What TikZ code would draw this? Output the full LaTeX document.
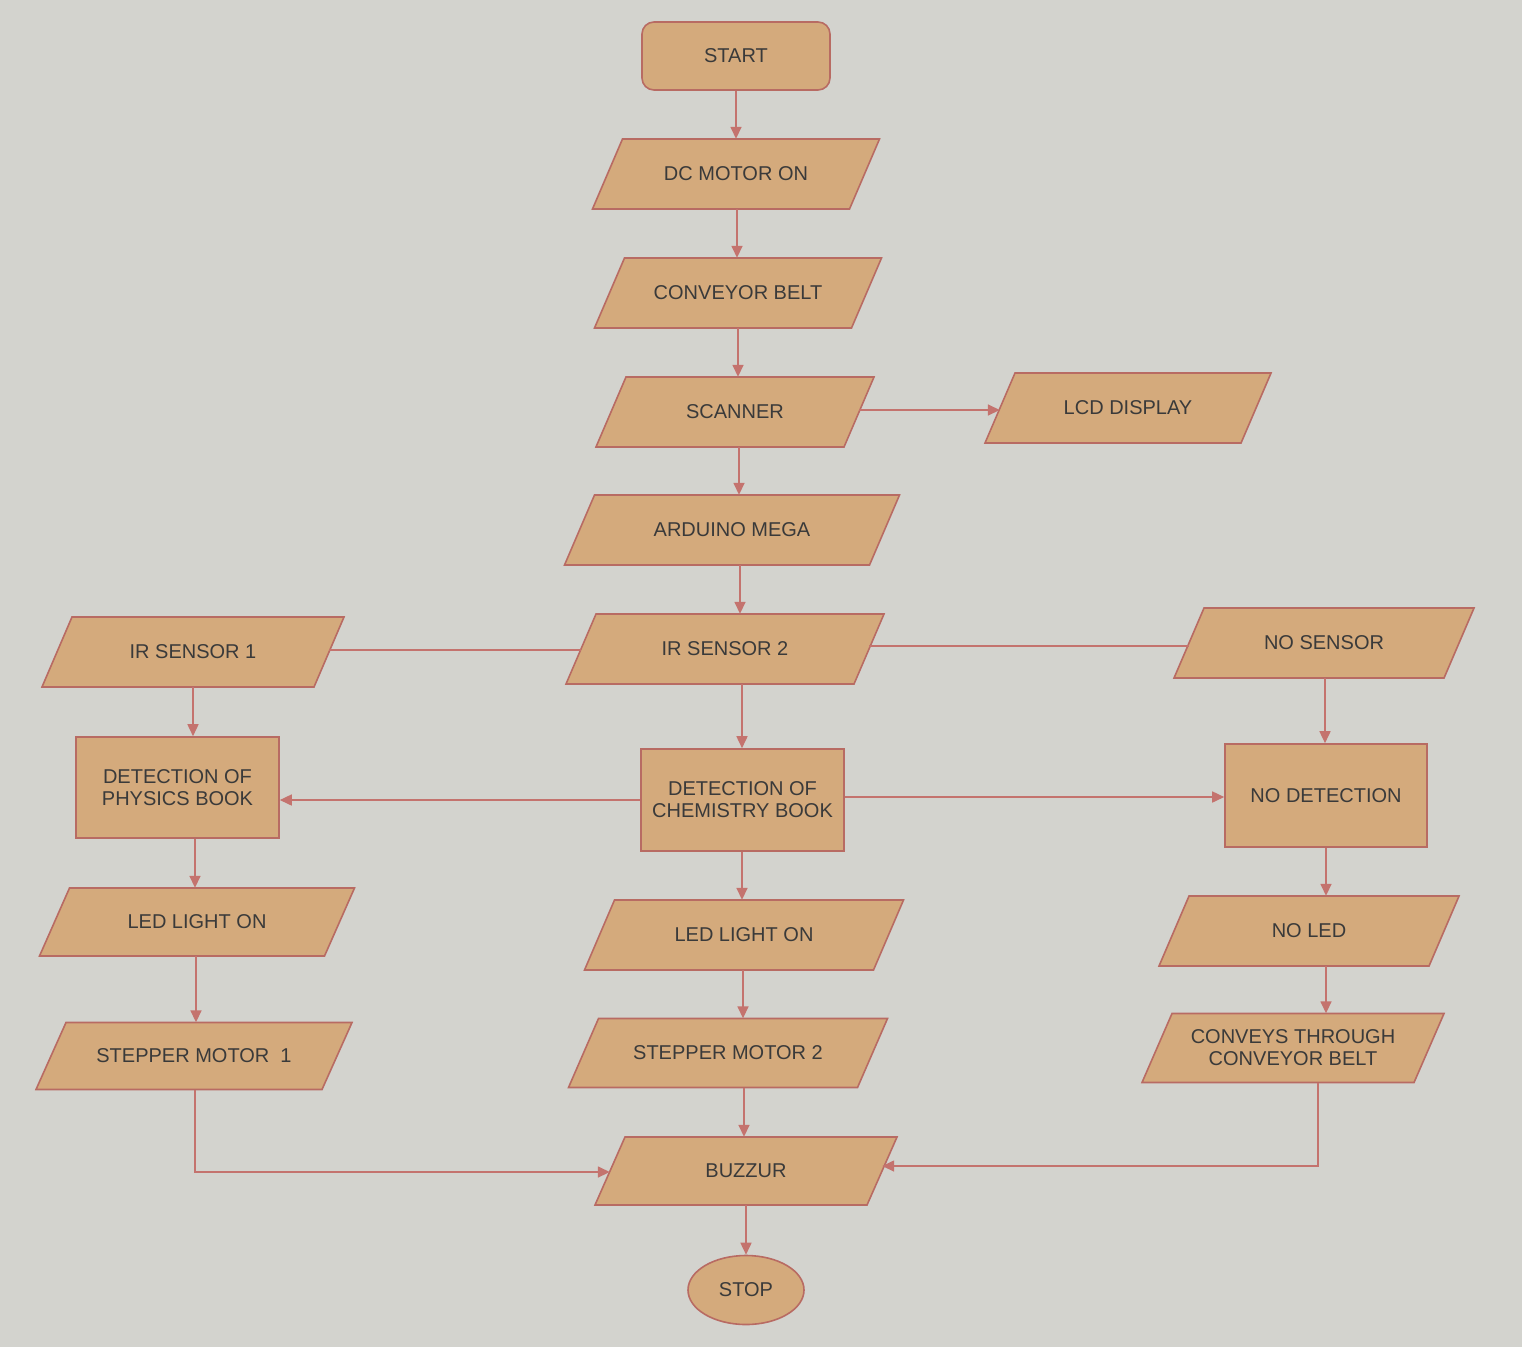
\documentclass[tikz,border=0pt]{standalone}
\usepackage{fontspec}
\setmainfont{Liberation Sans}
\usetikzlibrary{arrows.meta,shapes.geometric}
\definecolor{bgcol}{HTML}{D3D3CE}
\definecolor{boxfill}{HTML}{D4AA7C}
\definecolor{boxedge}{HTML}{B86B63}
\definecolor{wire}{HTML}{C4736E}
\definecolor{ink}{HTML}{3A3A3A}
\newcommand\paranode[6]{%
  \filldraw[shapeline] ({#2-#4/2+15},{#3-#5/2}) -- ({#2+#4/2+15},{#3-#5/2})
    -- ({#2+#4/2-15},{#3+#5/2}) -- ({#2-#4/2-15},{#3+#5/2}) -- cycle;
  \node[txt, minimum width=#4pt, minimum height=#5pt] (#1) at (#2,#3) {#6};}
\begin{document}
\begin{tikzpicture}[x=1pt,y=-1pt,
  txt/.style={font=\fontsize{20}{22}\selectfont, text=ink, align=center, inner sep=0pt},
  shapeline/.style={fill=boxfill, draw=boxedge, line width=1.6pt},
  rectbox/.style={txt, shapeline, rectangle},
  arr/.style={draw=wire, line width=1.6pt, -{Triangle[length=12pt,width=11pt]}},
  wireline/.style={draw=wire, line width=1.6pt}]
\fill[bgcol] (0,0) rectangle (1522,1347);
\useasboundingbox (0,0) rectangle (1522,1347);
% column and row coordinates
\coordinate (x1) at (736,0);
\coordinate (x2) at (737,0);
\coordinate (x3) at (738,0);
\coordinate (x4) at (739,0);
\coordinate (x5) at (740,0);
\coordinate (x6) at (742,0);
\coordinate (x7) at (743,0);
\coordinate (x8) at (744,0);
\coordinate (x9) at (746,0);
\coordinate (l1) at (193,0);
\coordinate (l2) at (195,0);
\coordinate (l3) at (196,0);
\coordinate (r1) at (1325,0);
\coordinate (r2) at (1326,0);
\coordinate (r3) at (1318,0);
\coordinate (h1) at (0,650);
\coordinate (h2) at (0,646);
\coordinate (h3) at (0,800);
\coordinate (h4) at (0,797);
\coordinate (h5) at (0,410);
\coordinate (h6) at (0,1172);
\coordinate (h7) at (0,1166);
% nodes
\node[rectbox, rounded corners=12pt, minimum width=188pt, minimum height=68pt] (start) at (736,56) {START};
\paranode{dc}{736}{174}{257}{70}{DC MOTOR ON}
\paranode{conv}{738}{293}{257}{70}{CONVEYOR BELT}
\paranode{scan}{735}{412}{248}{70}{SCANNER}
\paranode{lcd}{1128}{408}{256}{70}{LCD DISPLAY}
\paranode{ard}{732}{530}{305}{70}{ARDUINO MEGA}
\paranode{irtwo}{725}{649}{288}{70}{IR SENSOR 2}
\paranode{irone}{193}{652}{272}{70}{IR SENSOR 1}
\paranode{nos}{1324}{643}{270}{70}{NO SENSOR}
\node[rectbox, minimum width=203pt, minimum height=101pt] (phys) at (177.5,787.5) {DETECTION OF\\PHYSICS BOOK};
\node[rectbox, minimum width=203pt, minimum height=102pt] (chem) at (742.5,800) {DETECTION OF\\CHEMISTRY BOOK};
\node[rectbox, minimum width=202pt, minimum height=103pt] (nodet) at (1326,795.5) {NO DETECTION};
\paranode{ledl}{197}{922}{285}{68}{LED LIGHT ON}
\paranode{ledm}{744}{935}{289}{70}{LED LIGHT ON}
\paranode{noled}{1309}{931}{270}{70}{NO LED}
\paranode{stone}{194}{1056}{286}{67}{STEPPER MOTOR\ \ 1}
\paranode{sttwo}{728}{1053}{289}{69}{STEPPER MOTOR 2}
\paranode{conveys}{1293}{1048}{272}{69}{CONVEYS THROUGH\\CONVEYOR BELT}
\paranode{buz}{746}{1171}{272}{68}{BUZZUR}
\node[txt, shapeline, ellipse, minimum width=116pt, minimum height=69pt] (stop) at (746,1290) {STOP};
% connectors: main column
\draw[arr] (start.south -| x1) -- (dc.north -| x1);
\draw[arr] (dc.south -| x2) -- (conv.north -| x2);
\draw[arr] (conv.south -| x3) -- (scan.north -| x3);
\draw[arr] (scan.south -| x4) -- (ard.north -| x4);
\draw[arr] (scan.east |- h5) -- (lcd.west |- h5);
\draw[arr] (ard.south -| x5) -- (irtwo.north -| x5);
\draw[wireline] (irone.east |- h1) -- (irtwo.west |- h1);
\draw[wireline] (irtwo.east |- h2) -- (nos.west |- h2);
\draw[arr] (irtwo.south -| x6) -- (chem.north -| x6);
\draw[arr] (chem.west |- h3) -- (phys.east |- h3);
\draw[arr] (chem.east |- h4) -- (nodet.west |- h4);
\draw[arr] (chem.south -| x6) -- (ledm.north -| x6);
\draw[arr] (ledm.south -| x7) -- (sttwo.north -| x7);
\draw[arr] (sttwo.south -| x8) -- (buz.north -| x8);
\draw[arr] (buz.south -| x9) -- (stop.north -| x9);
% left column
\draw[arr] (irone.south -| l1) -- (phys.north -| l1);
\draw[arr] (phys.south -| l2) -- (ledl.north -| l2);
\draw[arr] (ledl.south -| l3) -- (stone.north -| l3);
\draw[arr] (stone.south -| l2) -- (l2 |- h6) -- (buz.west |- h6);
% right column
\draw[arr] (nos.south -| r1) -- (nodet.north -| r1);
\draw[arr] (nodet.south -| r2) -- (noled.north -| r2);
\draw[arr] (noled.south -| r2) -- (conveys.north -| r2);
\draw[arr] (conveys.south -| r3) -- (r3 |- h7) -- (buz.east |- h7);
\end{tikzpicture}
\end{document}
